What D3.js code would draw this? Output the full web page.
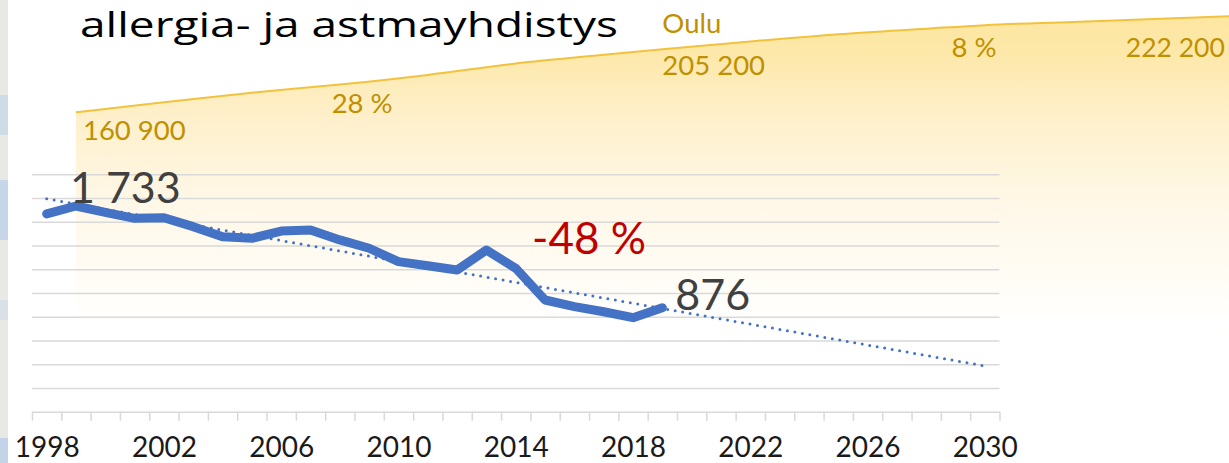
<!DOCTYPE html>
<html>
<head>
<meta charset="utf-8">
<script src="https://cdn.jsdelivr.net/npm/d3@7"></script>
<style>
  html, body { margin: 0; padding: 0; background: #fff; }
  svg { display: block; }
  text { font-family: Lato, "Open Sans", sans-serif; }
</style>
</head>
<body>
<svg id="chart" width="1229" height="463"></svg>
<script>
// Category axis (one band per year) and its labelled years
const axisYears = [1998, 1999, 2000, 2001, 2002, 2003, 2004, 2005, 2006, 2007, 2008,
  2009, 2010, 2011, 2012, 2013, 2014, 2015, 2016, 2017, 2018, 2019, 2020, 2021,
  2022, 2023, 2024, 2025, 2026, 2027, 2028, 2029, 2030];
const tickYears = [1998, 2002, 2006, 2010, 2014, 2018, 2022, 2026, 2030];

// Member count per year
const caseYears = [1998, 1999, 2000, 2001, 2002, 2003, 2004, 2005, 2006, 2007, 2008,
  2009, 2010, 2011, 2012, 2013, 2014, 2015, 2016, 2017, 2018, 2019];
const caseCounts = [1666, 1733, 1680, 1629, 1634, 1559, 1474, 1461, 1522, 1531, 1447,
  1377, 1264, 1230, 1194, 1362, 1208, 941, 885, 842, 792, 876];

// Population of Oulu (background area)
const popYears = [1999, 2002, 2005, 2008, 2011, 2014, 2017, 2019, 2022, 2025, 2028,
  2030, 2033, 2036, 2040];
const popValues = [160900, 167900, 174700, 180400, 187200, 195200, 201300, 205200,
  210700, 215800, 219700, 222200, 224400, 226700, 229800];
const popLabelYears = [1999, 2019, 2030];

const yTicks = [0, 200, 400, 600, 800, 1000, 1200, 1400, 1600, 1800, 2000];
const titleText = "allergia- ja astmayhdistys";
const cityName = "Oulu";
const changeLabel = "-48 %";

const fmt = d3.formatLocale({ decimal: ",", thousands: " ", grouping: [3], currency: ["", " €"] }).format(",d");

const W = 1229, H = 463;
const plot = { left: 32, right: 999.5, top: 174.3, bottom: 411.7 };

const svg = d3.select("#chart");

// year -> centre of its band; band edges sit on half years
const x = d3.scaleLinear()
  .domain([axisYears[0] - 0.5, axisYears[axisYears.length - 1] + 0.5])
  .range([plot.left, plot.right]);
const y = d3.scaleLinear().domain([0, d3.max(yTicks)]).range([plot.bottom, plot.top]);
const popY = d3.scaleLinear().domain([0, 250000]).range([341.1, -14.4]);

// ---- map strip on the left edge
const strip = svg.append("g");
strip.append("rect").attr("x", 0).attr("y", 0).attr("width", 8).attr("height", H).attr("fill", "#e8e9e5");
[[95, 40, "#c3d5ea"], [180, 60, "#b8cdea"], [300, 20, "#d3dce7"], [438, 25, "#b5cbea"]].forEach(([yy, hh, c]) => {
  strip.append("rect").attr("x", 0).attr("y", yy).attr("width", 8).attr("height", hh).attr("fill", c).attr("opacity", 0.7);
});

// ---- population area with vertical fade
const defs = svg.append("defs");
const grad = defs.append("linearGradient").attr("id", "popFade")
  .attr("gradientUnits", "userSpaceOnUse").attr("x1", 0).attr("x2", 0).attr("y1", 0).attr("y2", popY(0));
[[0, "#fde59c", 1], [0.15, "#fde8a9", 1], [0.35, "#fef0cc", 1], [0.6, "#fff8e8", 1], [0.85, "#fffdf8", 1], [1, "#ffffff", 0]]
  .forEach(([o, c, a]) => grad.append("stop").attr("offset", o).attr("stop-color", c).attr("stop-opacity", a));

const popData = popYears.map((yr, i) => ({ yr, v: popValues[i] }));
svg.append("path")
  .datum(popData)
  .attr("fill", "url(#popFade)")
  .attr("d", d3.area().curve(d3.curveMonotoneX).x(d => x(d.yr)).y0(popY(0)).y1(d => popY(d.v)));
svg.append("path")
  .datum(popData)
  .attr("fill", "none")
  .attr("stroke", "#f3c23c")
  .attr("stroke-width", 2)
  .attr("d", d3.line().curve(d3.curveMonotoneX).x(d => x(d.yr)).y(d => popY(d.v)));

// ---- gridlines
svg.append("g")
  .attr("transform", `translate(${plot.left},0)`)
  .call(d3.axisLeft(y).tickValues(yTicks.slice(1)).tickSize(-(plot.right - plot.left)).tickFormat(""))
  .call(g => g.select(".domain").remove())
  .call(g => g.selectAll("line").attr("stroke", "#d9d9d9").attr("stroke-width", 1.5));

// ---- category axis: ticks on band edges, labels on band centres
const edges = axisYears.map(d => d - 0.5).concat([axisYears[axisYears.length - 1] + 0.5]);
svg.append("g")
  .attr("transform", `translate(0,${plot.bottom})`)
  .call(d3.axisBottom(x).tickValues(edges).tickSize(9).tickFormat("").tickSizeOuter(0))
  .call(g => g.select(".domain").attr("stroke", "#d9d9d9").attr("stroke-width", 1.5))
  .call(g => g.selectAll(".tick line").attr("stroke", "#d9d9d9").attr("stroke-width", 1.5));

svg.append("g")
  .attr("transform", `translate(0,${plot.bottom})`)
  .call(d3.axisBottom(x).tickValues(tickYears).tickSize(0).tickPadding(0).tickFormat(d3.format("d")))
  .call(g => g.select(".domain").remove())
  .call(g => g.selectAll("text")
    .attr("dy", null).attr("y", 45.5).attr("fill", "#1a1a1a")
    .style("font-family", "Lato, sans-serif").style("font-size", "28px"));

// ---- linear trend of the member counts, extended to the end of the axis
const mx = d3.mean(caseYears), my = d3.mean(caseCounts);
const slope = d3.sum(caseYears, (d, i) => (d - mx) * (caseCounts[i] - my)) / d3.sum(caseYears, d => (d - mx) ** 2);
const trend = yr => my + slope * (yr - mx);
const trendEnds = [caseYears[0], axisYears[axisYears.length - 1]];
svg.append("path")
  .datum(trendEnds)
  .attr("fill", "none")
  .attr("stroke", "#4472c4")
  .attr("stroke-width", 3)
  .attr("stroke-linecap", "round")
  .attr("stroke-dasharray", "0 7.6")
  .attr("d", d3.line().x(d => x(d)).y(d => y(trend(d))));

// ---- member count line
const caseData = caseYears.map((yr, i) => ({ yr, v: caseCounts[i] }));
svg.append("path")
  .datum(caseData)
  .attr("fill", "none")
  .attr("stroke", "#4472c4")
  .attr("stroke-width", 9)
  .attr("stroke-linejoin", "round")
  .attr("stroke-linecap", "round")
  .attr("d", d3.line().x(d => x(d.yr)).y(d => y(d.v)));

// ---- value labels
const peak = caseData[1], last = caseData[caseData.length - 1];
svg.append("text").attr("x", x(peak.yr) - 6).attr("y", y(peak.v) - 3)
  .attr("fill", "#404040").style("font-size", "43px").text(fmt(peak.v));
svg.append("text").attr("x", x(last.yr) + 13).attr("y", y(last.v) + 2)
  .attr("fill", "#404040").style("font-size", "43px").text(fmt(last.v));
svg.append("text").attr("x", x(2016.5)).attr("y", y(1325)).attr("text-anchor", "middle")
  .attr("fill", "#c00000").style("font-size", "44px").text(changeLabel);

// ---- population labels
const gold = "#bf9000";
const goldSize = "27.5px";
const popAt = yr => popValues[popYears.indexOf(yr)];
const [p0, p1, p2] = popLabelYears.map(popAt);
const pct = (a, b) => Math.round((b / a - 1) * 100) + " %";
svg.append("text").attr("x", x(popLabelYears[0]) + 7).attr("y", popY(p0) + 28)
  .attr("fill", gold).style("font-size", goldSize).text(fmt(p0));
svg.append("text").attr("x", x(popLabelYears[1])).attr("y", popY(p1) + 26)
  .attr("fill", gold).style("font-size", goldSize).text(fmt(p1));
svg.append("text").attr("x", x(popLabelYears[1])).attr("y", popY(p1) - 16)
  .attr("fill", gold).style("font-size", goldSize).text(cityName);
svg.append("text").attr("x", x(popLabelYears[2]) + 141).attr("y", popY(p2) + 32)
  .attr("fill", gold).style("font-size", "26.5px").text(fmt(p2));
svg.append("text").attr("x", (x(popLabelYears[0]) + x(popLabelYears[1])) / 2 - 7).attr("y", 112.7)
  .attr("text-anchor", "middle").attr("fill", gold).style("font-size", goldSize).text(pct(p0, p1));
svg.append("text").attr("x", 974).attr("y", 56.7)
  .attr("text-anchor", "middle").attr("fill", gold).style("font-size", goldSize).text(pct(p1, p2));

// ---- title
svg.append("text").attr("x", 80).attr("y", 36.5)
  .attr("fill", "#000")
  .attr("textLength", 538).attr("lengthAdjust", "spacingAndGlyphs")
  .style("font-family", "'Open Sans', Lato, sans-serif").style("font-size", "34px")
  .text(titleText);
</script>
</body>
</html>
